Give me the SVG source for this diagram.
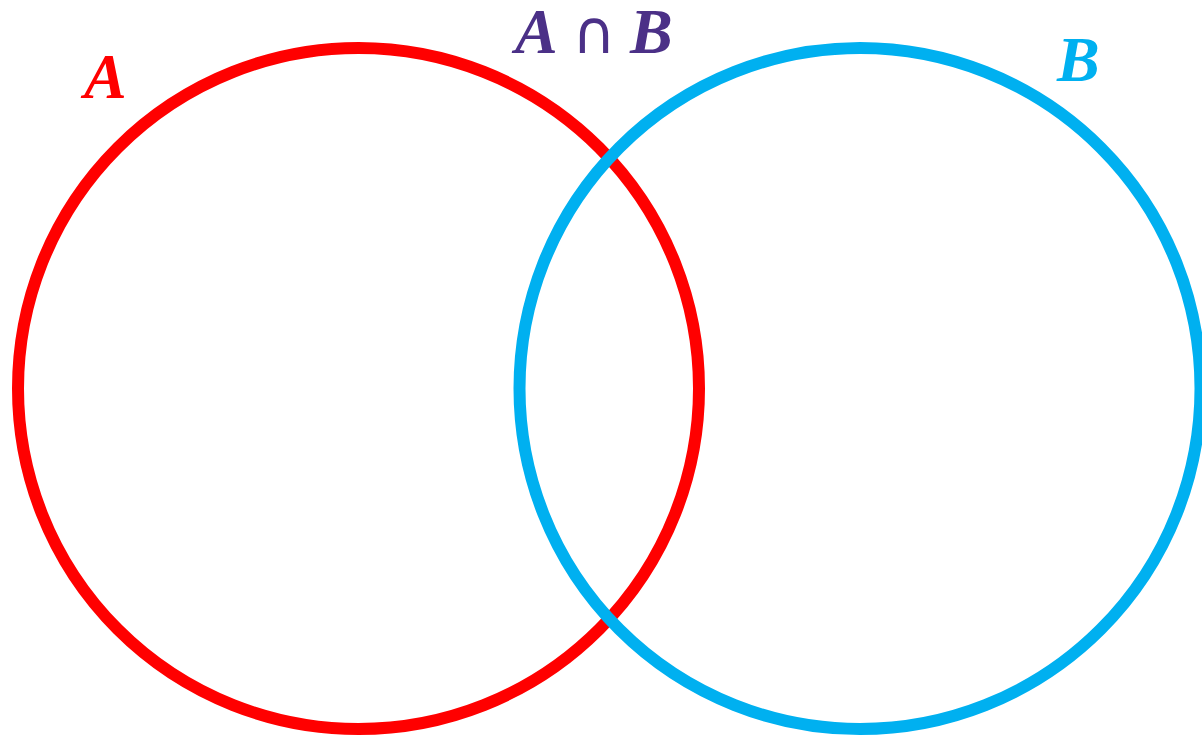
<svg xmlns="http://www.w3.org/2000/svg" width="1202" height="738" viewBox="0 0 1202 738">
<style>
.set{fill:none;stroke-width:12}
.lbl{font-family:"Liberation Serif","DejaVu Serif",serif;font-style:italic;font-weight:bold;font-size:64px}
.op{font-family:"DejaVu Sans","Liberation Sans",sans-serif;font-style:normal;font-weight:normal;font-size:60px}
</style>
<rect width="1202" height="738" fill="#ffffff"/>
<g id="setA">
<circle class="set" cx="358.5" cy="388.5" r="340.5" stroke="#ff0000"/>
<text class="lbl" x="84" y="98" fill="#ff0000">A</text>
</g>
<g id="setB">
<circle class="set" cx="860" cy="388.5" r="340.5" stroke="#00b0f0"/>
<text class="lbl" x="1057" y="81" fill="#00b0f0">B</text>
</g>
<g id="intersection">
<text class="lbl" y="53" fill="#4b3087"><tspan x="515">A</tspan><tspan class="op" x="572">∩</tspan><tspan x="630">B</tspan></text>
</g>
<g id="connectors"></g>
</svg>
